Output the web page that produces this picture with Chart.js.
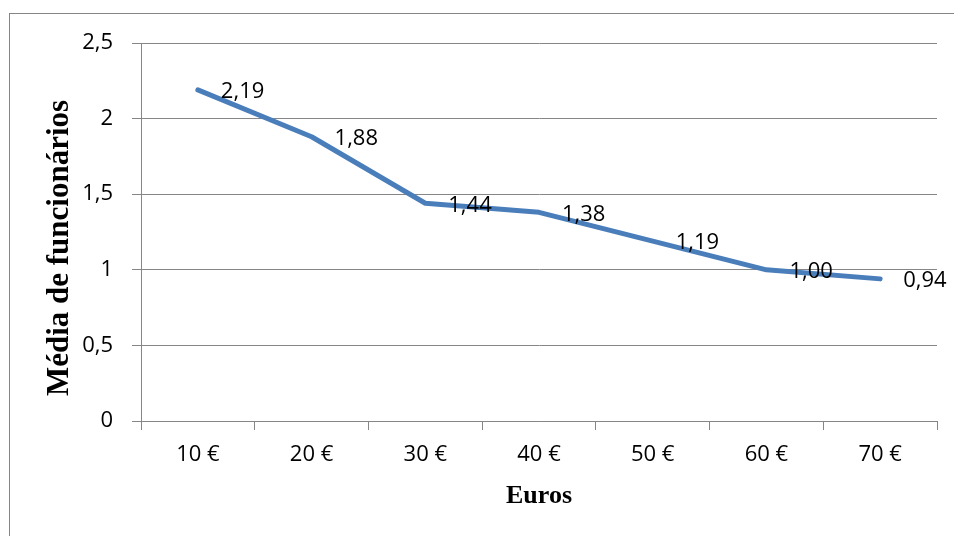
<!DOCTYPE html>
<html>
<head>
<meta charset="utf-8">
<title>Média de funcionários</title>
<script src="https://cdn.jsdelivr.net/npm/chart.js@4/dist/chart.umd.min.js"></script>
<style>
    html, body { margin: 0; padding: 0; background: #fff; overflow: hidden; }
    #wrap { position: relative; width: 954px; height: 536px; }
    #frame {
        position: absolute; left: 9px; top: 13px; width: 1200px; height: 1200px;
        border-left: 1px solid #868686; border-top: 1px solid #868686;
    }
    #chart { position: absolute; left: 0; top: 0; }
</style>
</head>
<body>
<div id="wrap">
    <div id="frame"></div>
    <canvas id="chart" width="954" height="536"></canvas>
</div>
<script>
// Data
const categories = ['10 €', '20 €', '30 €', '40 €', '50 €', '60 €', '70 €'];
const averages = [2.19, 1.88, 1.44, 1.38, 1.19, 1.00, 0.94];
const yTicks = [0, 0.5, 1, 1.5, 2, 2.5];
const yTitle = 'Média de funcionários';

const gridGray = '#868686';
const lineBlue = '#4A7EBB';

// Comma as decimal separator
const fmtTick = v => String(v).replace('.', ',');
const fmtLabel = v => v.toFixed(2).replace('.', ',');

// Value labels right of each point
const valueLabels = {
    id: 'valueLabels',
    afterDatasetsDraw(chart) {
        const ctx = chart.ctx;
        const meta = chart.getDatasetMeta(0);
        ctx.save();
        ctx.font = '22px "Open Sans"';
        ctx.fillStyle = '#000';
        ctx.textAlign = 'left';
        ctx.textBaseline = 'middle';
        meta.data.forEach((pt, i) => {
            ctx.fillText(fmtLabel(averages[i]), pt.x + 23, pt.y + 2);
        });
        ctx.restore();
    }
};

// Y axis title, sits a bit below the plot centre like the original
const yAxisTitle = {
    id: 'yAxisTitle',
    afterDraw(chart) {
        const ctx = chart.ctx;
        const area = chart.chartArea;
        ctx.save();
        ctx.translate(68, (area.top + area.bottom) / 2 + 16);
        ctx.rotate(-Math.PI / 2);
        ctx.font = 'bold 31px "Liberation Serif"';
        ctx.fillStyle = '#000';
        ctx.textAlign = 'center';
        ctx.textBaseline = 'alphabetic';
        ctx.fillText(yTitle, 0, 0);
        ctx.restore();
    }
};

new Chart(document.getElementById('chart'), {
    type: 'line',
    data: {
        labels: categories,
        datasets: [{
            data: averages,
            borderColor: lineBlue,
            borderWidth: 5,
            borderCapStyle: 'round',
            borderJoinStyle: 'round',
            pointRadius: 0,
            tension: 0,
            fill: false
        }]
    },
    options: {
        responsive: false,
        animation: false,
        layout: {
            padding: { top: 43, right: 17, bottom: 0, left: 0 }
        },
        plugins: {
            legend: { display: false },
            tooltip: { enabled: false }
        },
        scales: {
            x: {
                offset: true,
                grid: {
                    offset: true,
                    drawOnChartArea: false,
                    color: gridGray,
                    tickLength: 9
                },
                border: { color: gridGray },
                ticks: {
                    color: '#000',
                    padding: 12,
                    font: { family: 'Open Sans', size: 22 }
                },
                title: {
                    display: true,
                    text: 'Euros',
                    color: '#000',
                    padding: { top: 0, bottom: 24 },
                    font: { family: 'Liberation Serif', size: 26, weight: 'bold' }
                },
                afterFit(scale) { scale.height = 115; }
            },
            y: {
                min: 0,
                max: 2.5,
                afterBuildTicks(scale) {
                    scale.ticks = yTicks.map(v => ({ value: v }));
                },
                grid: {
                    color: gridGray,
                    tickLength: 9
                },
                border: { color: gridGray },
                ticks: {
                    color: '#000',
                    padding: 19,
                    font: { family: 'Open Sans', size: 22 },
                    callback: v => fmtTick(v)
                },
                afterFit(scale) { scale.width = 141; }
            }
        }
    },
    plugins: [valueLabels, yAxisTitle]
});
</script>
</body>
</html>
